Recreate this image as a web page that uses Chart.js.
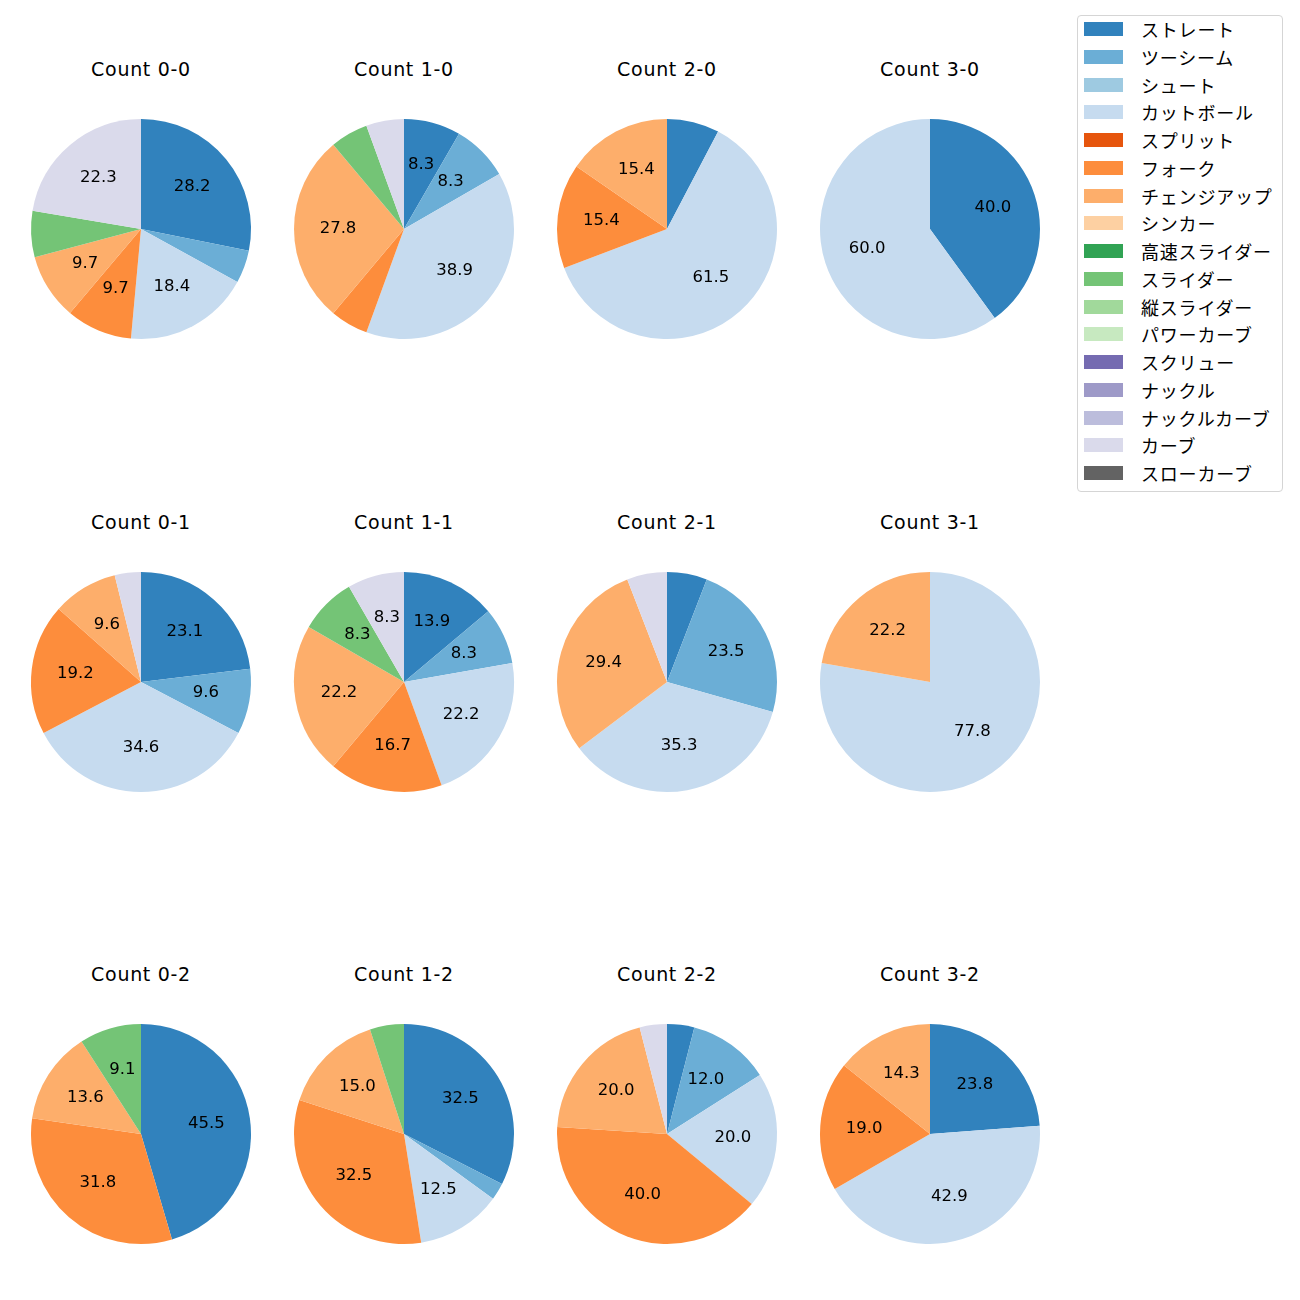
<!DOCTYPE html>
<html>
<head>
<meta charset="utf-8">
<script src="https://cdn.jsdelivr.net/npm/chart.js@4.4.0/dist/chart.umd.min.js"></script>
<style>
    body { margin: 0; background: #fff; width: 1300px; height: 1300px; position: relative; font-family: "DejaVu Sans", "Noto Sans CJK JP", sans-serif; }
    .pie { position: absolute; }
    .title { position: absolute; width: 240px; text-align: center; font-size: 19px; letter-spacing: 0.7px; line-height: 20px; color: #000; }
    #legend { position: absolute; left: 1077px; top: 15px; width: 206px; height: 477px; border: 1px solid #d5d5d5; border-radius: 4px; box-sizing: border-box; }
    .item { position: absolute; left: 6px; height: 20px; width: 195px; }
    .swatch { position: absolute; left: 0; top: 3px; width: 39px; height: 14px; }
    .label { position: absolute; left: 57px; top: 0; font-family: "Noto Sans CJK JP", sans-serif; font-size: 18px; letter-spacing: 0.8px; line-height: 20px; white-space: nowrap; color: #000; }
</style>
</head>
<body>
<div id="legend"></div>

<script>
// Kategori & warna (urutan sama dengan legenda)
const pitchTypes = ['ストレート', 'ツーシーム', 'シュート', 'カットボール', 'スプリット', 'フォーク', 'チェンジアップ', 'シンカー',
    '高速スライダー', 'スライダー', '縦スライダー', 'パワーカーブ', 'スクリュー', 'ナックル', 'ナックルカーブ', 'カーブ', 'スローカーブ'];
const pitchColors = ['#3182bd', '#6baed6', '#9ecae1', '#c6dbef', '#e6550d', '#fd8d3c', '#fdae6b', '#fdd0a2',
    '#31a354', '#74c476', '#a1d99b', '#c7e9c0', '#756bb1', '#9e9ac8', '#bcbddc', '#dadaeb', '#636363'];

// Jumlah lemparan per count (urutan = pitchTypes)
const count00 = [29, 5, 0, 19, 0, 10, 10, 0, 0, 7, 0, 0, 0, 0, 0, 23, 0];
const count10 = [3, 3, 0, 14, 0, 2, 10, 0, 0, 2, 0, 0, 0, 0, 0, 2, 0];
const count20 = [1, 0, 0, 8, 0, 2, 2, 0, 0, 0, 0, 0, 0, 0, 0, 0, 0];
const count30 = [2, 0, 0, 3, 0, 0, 0, 0, 0, 0, 0, 0, 0, 0, 0, 0, 0];
const count01 = [12, 5, 0, 18, 0, 10, 5, 0, 0, 0, 0, 0, 0, 0, 0, 2, 0];
const count11 = [5, 3, 0, 8, 0, 6, 8, 0, 0, 3, 0, 0, 0, 0, 0, 3, 0];
const count21 = [1, 4, 0, 6, 0, 0, 5, 0, 0, 0, 0, 0, 0, 0, 0, 1, 0];
const count31 = [0, 0, 0, 7, 0, 0, 2, 0, 0, 0, 0, 0, 0, 0, 0, 0, 0];
const count02 = [10, 0, 0, 0, 0, 7, 3, 0, 0, 2, 0, 0, 0, 0, 0, 0, 0];
const count12 = [13, 1, 0, 5, 0, 13, 6, 0, 0, 2, 0, 0, 0, 0, 0, 0, 0];
const count22 = [1, 3, 0, 5, 0, 10, 5, 0, 0, 0, 0, 0, 0, 0, 0, 1, 0];
const count32 = [5, 0, 0, 9, 0, 4, 3, 0, 0, 0, 0, 0, 0, 0, 0, 0, 0];

const countTitles = ['Count 0-0', 'Count 1-0', 'Count 2-0', 'Count 3-0',
    'Count 0-1', 'Count 1-1', 'Count 2-1', 'Count 3-1',
    'Count 0-2', 'Count 1-2', 'Count 2-2', 'Count 3-2'];
const countData = [count00, count10, count20, count30, count01, count11, count21, count31, count02, count12, count22, count32];

const LABEL_MIN = 8; // persen minimum agar label ditampilkan

// Plugin: tulis persentase di dalam irisan (jarak 0.6 radius)
const pctLabels = {
    id: 'pctLabels',
    afterDatasetsDraw(chart) {
        const ctx = chart.ctx;
        const meta = chart.getDatasetMeta(0);
        const values = chart.data.datasets[0].data;
        const total = values.reduce((a, b) => a + b, 0);
        ctx.save();
        ctx.font = '16.5px "DejaVu Sans"';
        ctx.fillStyle = '#000';
        ctx.textAlign = 'center';
        ctx.textBaseline = 'alphabetic';
        meta.data.forEach((arc, i) => {
            const pct = values[i] / total * 100;
            if (pct < LABEL_MIN) return;
            const mid = (arc.startAngle + arc.endAngle) / 2;
            const r = arc.outerRadius * 0.6;
            // baseline digeser supaya angka sedikit di atas titik tengah (mirip matplotlib)
            ctx.fillText(pct.toFixed(1), arc.x + Math.cos(mid) * r, arc.y + Math.sin(mid) * r + 3.5);
        });
        ctx.restore();
    }
};

// Buat 12 pie
countData.forEach((values, idx) => {
    const col = idx % 4;
    const row = Math.floor(idx / 4);
    const cx = 141 + col * 263;
    const cy = 229 + row * 452.5;

    const title = document.createElement('div');
    title.className = 'title';
    title.textContent = countTitles[idx];
    title.style.left = (cx - 120) + 'px';
    title.style.top = (cy - 170) + 'px';
    document.body.appendChild(title);

    const canvas = document.createElement('canvas');
    canvas.className = 'pie';
    canvas.width = 240;
    canvas.height = 240;
    canvas.style.left = (cx - 120) + 'px';
    canvas.style.top = (cy - 120) + 'px';
    document.body.appendChild(canvas);

    new Chart(canvas.getContext('2d'), {
        type: 'pie',
        data: {
            labels: pitchTypes,
            datasets: [{
                data: values,
                backgroundColor: pitchColors,
                borderWidth: 0
            }]
        },
        options: {
            responsive: false,
            animation: false,
            layout: { padding: 10 },
            plugins: {
                legend: { display: false },
                tooltip: { enabled: false }
            }
        },
        plugins: [pctLabels]
    });
});

// Legenda
const legend = document.getElementById('legend');
pitchTypes.forEach((name, i) => {
    const item = document.createElement('div');
    item.className = 'item';
    item.style.top = (3 + i * 27.75) + 'px';
    item.innerHTML = `<div class="swatch" style="background:${pitchColors[i]}"></div><div class="label">${name}</div>`;
    legend.appendChild(item);
});
</script>
</body>
</html>
